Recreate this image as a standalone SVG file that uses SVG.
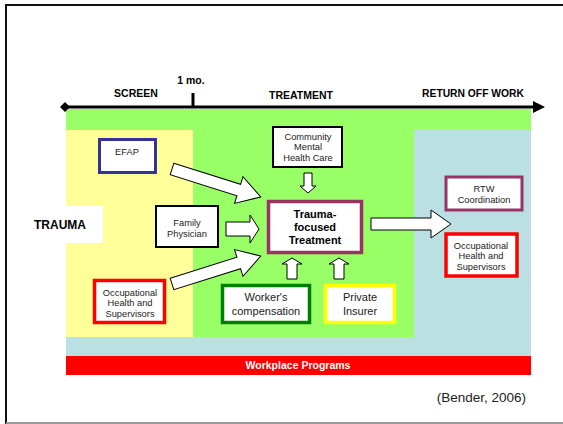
<svg xmlns="http://www.w3.org/2000/svg" width="563" height="424" viewBox="0 0 563 424">
<style>
.t{font-family:"Liberation Sans",Arial,sans-serif;fill:#222;text-anchor:middle}
.b{font-weight:bold;fill:#000}
.s9{font-size:9.3px}
.s11{font-size:11px}
.box{fill:#fff}
.arr{fill:#fff;stroke:#000;stroke-width:1}
</style>
<rect x="0" y="0" width="563" height="424" fill="#fff"/>
<path d="M6 424 V5 H563" fill="none" stroke="#111" stroke-width="2"/>
<line x1="6" y1="423" x2="563" y2="423" stroke="#999" stroke-width="2"/>
<!-- background zones -->
<rect x="66" y="109" width="465" height="247" fill="#99FF66"/>
<rect x="66" y="130" width="127" height="207" fill="#FFFF99"/>
<rect x="414" y="130" width="117" height="226" fill="#BBE0E3"/>
<rect x="66" y="337" width="465" height="19" fill="#BBE0E3"/>
<rect x="66" y="356" width="465" height="19" fill="#FF0000"/>
<text class="t b" x="298" y="369" font-size="10.5" style="fill:#fff">Workplace Programs</text>
<!-- axis -->
<g id="axis">
<line x1="65" y1="107" x2="534" y2="107" stroke="#000" stroke-width="3"/>
<polygon points="60,107 65,102 70,107 65,112" fill="#000"/>
<polygon points="533,101 545,107 533,113" fill="#000"/>
<line x1="193" y1="93" x2="193" y2="107" stroke="#000" stroke-width="3"/>
<text class="t b" x="191" y="84" font-size="10.5">1 mo.</text>
<text class="t b" x="136" y="97" font-size="10.5">SCREEN</text>
<text class="t b" x="301" y="99" font-size="10.5">TREATMENT</text>
<text class="t b" x="473" y="97" font-size="10.3">RETURN OFF WORK</text>
</g>
<g id="trauma">
<rect x="66" y="206" width="37" height="37" fill="#fff"/>
<text class="t b" x="60" y="229" font-size="12">TRAUMA</text>
</g>
<g id="efap">
<rect x="99.5" y="139.5" width="56" height="33" class="box" stroke="#333399" stroke-width="3"/>
<text class="t s9" x="127" y="154.5">EFAP</text>
</g>
<g id="family">
<rect x="156" y="206" width="62" height="41" class="box" stroke="#000" stroke-width="2"/>
<text class="t s9" x="187" y="225.5">Family</text>
<text class="t s9" x="187" y="236.5">Physician</text>
</g>
<g id="occ1">
<rect x="94.5" y="280.5" width="70" height="42" class="box" stroke="#FF0000" stroke-width="3.5"/>
<text class="t s9" x="130" y="295.5">Occupational</text>
<text class="t s9" x="130" y="306">Health and</text>
<text class="t s9" x="130" y="316.5">Supervisors</text>
</g>
<g id="community">
<rect x="273" y="127" width="69" height="40" class="box" stroke="#000" stroke-width="2"/>
<text class="t s9" x="308" y="139.5">Community</text>
<text class="t s9" x="308" y="150">Mental</text>
<text class="t s9" x="308" y="160.5">Health Care</text>
</g>
<g id="treatment">
<rect x="268.5" y="201.5" width="93" height="51" class="box" stroke="#993366" stroke-width="3.5"/>
<text class="t b s11" x="315" y="218">Trauma-</text>
<text class="t b s11" x="315" y="231">focused</text>
<text class="t b s11" x="315" y="244">Treatment</text>
</g>
<g id="workers">
<rect x="222.5" y="285.5" width="87" height="37" class="box" stroke="#008000" stroke-width="3.5"/>
<text class="t s11" x="266" y="301">Worker's</text>
<text class="t s11" x="266" y="315">compensation</text>
</g>
<g id="insurer">
<rect x="325.5" y="285.5" width="69" height="37" class="box" stroke="#FFFF00" stroke-width="3.5"/>
<text class="t s11" x="360" y="301">Private</text>
<text class="t s11" x="360" y="315">Insurer</text>
</g>
<g id="rtw">
<rect x="446" y="177" width="76" height="33" class="box" stroke="#993366" stroke-width="3"/>
<text class="t s9" x="484" y="192">RTW</text>
<text class="t s9" x="484" y="202.5">Coordination</text>
</g>
<g id="occ2">
<rect x="446" y="234" width="71" height="42" class="box" stroke="#FF0000" stroke-width="3.5"/>
<text class="t s9" x="481" y="248.5">Occupational</text>
<text class="t s9" x="481" y="259">Health and</text>
<text class="t s9" x="481" y="269.5">Supervisors</text>
</g>
<g id="connectors">
<path class="arr" transform="translate(172,169) rotate(17.5)" d="M0,-6 H70 V-14 L93,0 L70,14 V6 H0 Z"/>
<path class="arr" transform="translate(172,284) rotate(-17.5)" d="M0,-6 H70 V-14 L93,0 L70,14 V6 H0 Z"/>
<path class="arr" d="M226,222 H250 V215 L259,229 L250,243 V236 H226 Z"/>
<path class="arr" d="M304,173 H312 V186 H316 L308,193 L300,186 H304 Z"/>
<path class="arr" d="M287,279 V264 H282 L292,258 L302,264 H297 V279 Z"/>
<path class="arr" d="M334,279 V264 H329 L339,258 L349,264 H344 V279 Z"/>
<path class="arr" d="M371,218 H431 V210 L451,224 L431,238 V230 H371 Z"/>
</g>
<text x="526" y="402" font-family="Liberation Sans,Arial,sans-serif" font-size="13.5" fill="#222" text-anchor="end">(Bender, 2006)</text>
</svg>
